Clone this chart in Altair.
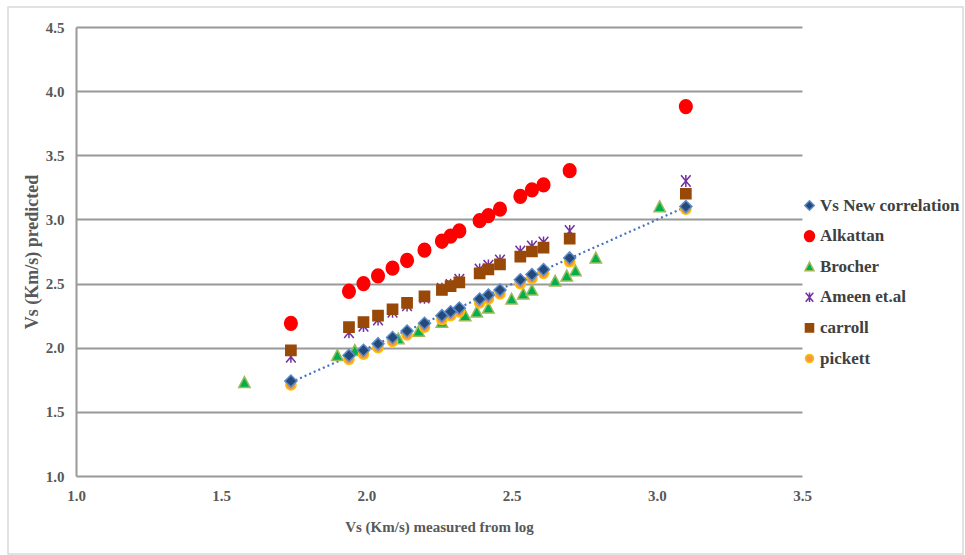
import altair as alt
import pandas as pd

series_order = ["Vs New correlation", "Alkattan", "Brocher", "Ameen et.al", "carroll", "pickett"]

vs_log = [1.74, 1.94, 1.99, 2.04, 2.09, 2.14, 2.20, 2.26, 2.29, 2.32, 2.39, 2.42, 2.46, 2.53, 2.57, 2.61, 2.70, 3.10]
vs_new = [1.74, 1.94, 1.98, 2.03, 2.08, 2.13, 2.19, 2.25, 2.28, 2.31, 2.38, 2.41, 2.45, 2.53, 2.57, 2.61, 2.70, 3.10]
alkattan = [2.19, 2.44, 2.50, 2.56, 2.62, 2.68, 2.76, 2.83, 2.87, 2.91, 2.99, 3.03, 3.08, 3.18, 3.23, 3.27, 3.38, 3.88]
ameen = [1.93, 2.12, 2.17, 2.22, 2.28, 2.33, 2.39, 2.46, 2.49, 2.53, 2.61, 2.64, 2.68, 2.75, 2.79, 2.82, 2.91, 3.30]
carroll = [1.98, 2.16, 2.20, 2.25, 2.30, 2.35, 2.40, 2.45, 2.48, 2.51, 2.58, 2.61, 2.65, 2.71, 2.75, 2.78, 2.85, 3.20]
pickett = [1.71, 1.91, 1.95, 2.00, 2.05, 2.10, 2.16, 2.22, 2.25, 2.28, 2.35, 2.38, 2.42, 2.50, 2.54, 2.58, 2.67, 3.08]

brocher_x = [1.58, 1.90, 1.96, 2.04, 2.11, 2.18, 2.26, 2.34, 2.38, 2.42, 2.50, 2.54, 2.57, 2.65, 2.69, 2.72, 2.79, 3.01]
brocher_y = [1.73, 1.94, 1.98, 2.03, 2.07, 2.13, 2.20, 2.25, 2.28, 2.31, 2.38, 2.42, 2.45, 2.52, 2.56, 2.60, 2.70, 3.10]

rows = []
def add(name, xs, ys):
    for a, b in zip(xs, ys):
        rows.append({"series": name, "x": a, "y": b})

# drawing order (later = on top)
add("Alkattan", vs_log, alkattan)
add("Brocher", brocher_x, brocher_y)
add("pickett", vs_log, pickett)
add("Ameen et.al", vs_log, ameen)
add("carroll", vs_log, carroll)
add("Vs New correlation", vs_log, vs_new)
df = pd.DataFrame(rows)

fills = ["#25497A", "#FF0000", "#00B050", "#7030A0", "#984807", "#F79646"]
strokes = ["#5B8BC9", "#FF0000", "#9BBB59", "#7030A0", "#984807", "#FFC000"]
diamond = "M0,-1L1,0L0,1L-1,0Z"
ellipse = "M-1.05,0A1.05,1.15 0 1,0 1.05,0A1.05,1.15 0 1,0 -1.05,0Z"
triangle = "M0,-0.95L0.95,0.85L-0.95,0.85Z"
star = "M-0.8,-0.95L0.8,0.95M0.8,-0.95L-0.8,0.95M0,-1L0,1"
square = "M-0.85,-0.85L0.85,-0.85L0.85,0.85L-0.85,0.85Z"
small_circle = "M-0.85,0A0.85,0.85 0 1,0 0.85,0A0.85,0.85 0 1,0 -0.85,0Z"
shapes = [diamond, ellipse, triangle, star, square, small_circle]

serif = "Liberation Serif"

xscale = alt.Scale(domain=[1.0, 3.5], nice=False)
yscale = alt.Scale(domain=[1.0, 4.5], nice=False)

border = alt.Chart(pd.DataFrame({"k": [0]})).mark_rect(
    fill=None, stroke="#D9D9D9", strokeWidth=1.5, clip=False
).encode(
    x=alt.value(-68), x2=alt.value(887), y=alt.value(-20), y2=alt.value(527)
)

trend = alt.Chart(df).transform_filter(
    alt.datum.series == "Vs New correlation"
).transform_regression("x", "y").mark_line(
    color="#4472C4", strokeDash=[2, 3], strokeWidth=2.2
).encode(
    x=alt.X("x:Q", scale=xscale),
    y=alt.Y("y:Q", scale=yscale),
)

points = alt.Chart(df).mark_point(filled=True, opacity=1, strokeWidth=1.5, size=144).encode(
    x=alt.X("x:Q", scale=xscale, title="Vs (Km/s) measured from log",
            axis=alt.Axis(values=[1.0, 1.5, 2.0, 2.5, 3.0, 3.5], format=".1f", grid=False,
                          domain=False, ticks=False, labelPadding=12, titlePadding=16,
                          labelFlush=False)),
    y=alt.Y("y:Q", scale=yscale, title="Vs (Km/s) predicted",
            axis=alt.Axis(values=[1.0, 1.5, 2.0, 2.5, 3.0, 3.5, 4.0, 4.5], format=".1f", grid=True,
                          domain=True, ticks=False, labelPadding=12, titlePadding=4,
                          titleFontSize=18, labelFlush=False)),
    fill=alt.Fill("series:N", scale=alt.Scale(domain=series_order, range=fills),
                  legend=alt.Legend(title=None)),
    stroke=alt.Stroke("series:N", scale=alt.Scale(domain=series_order, range=strokes),
                      legend=alt.Legend(title=None)),
    shape=alt.Shape("series:N", scale=alt.Scale(domain=series_order, range=shapes),
                    legend=alt.Legend(title=None)),
)

chart = alt.layer(border, trend, points).properties(
    width=726, height=449,
    autosize=alt.AutoSizeParams(type="none"),
    padding={"left": 76, "top": 27, "right": 163, "bottom": 79},
    background="white",
).configure_view(stroke=None).configure_axis(
    labelFont=serif, labelFontSize=15, labelFontWeight="bold", labelColor="#595959",
    titleFont=serif, titleFontSize=15, titleFontWeight="bold", titleColor="#595959",
    gridColor="#999999", gridWidth=2, domainColor="#999999", domainWidth=2,
).configure_legend(
    orient="none", legendX=725, legendY=170,
    labelFont=serif, labelFontSize=17, labelFontWeight="bold", labelColor="#404040",
    symbolSize=90, symbolStrokeWidth=1.5, rowPadding=12.6, labelOffset=2, padding=0,
)

chart.save("out.html", embed_options={"renderer": "svg", "actions": False})
